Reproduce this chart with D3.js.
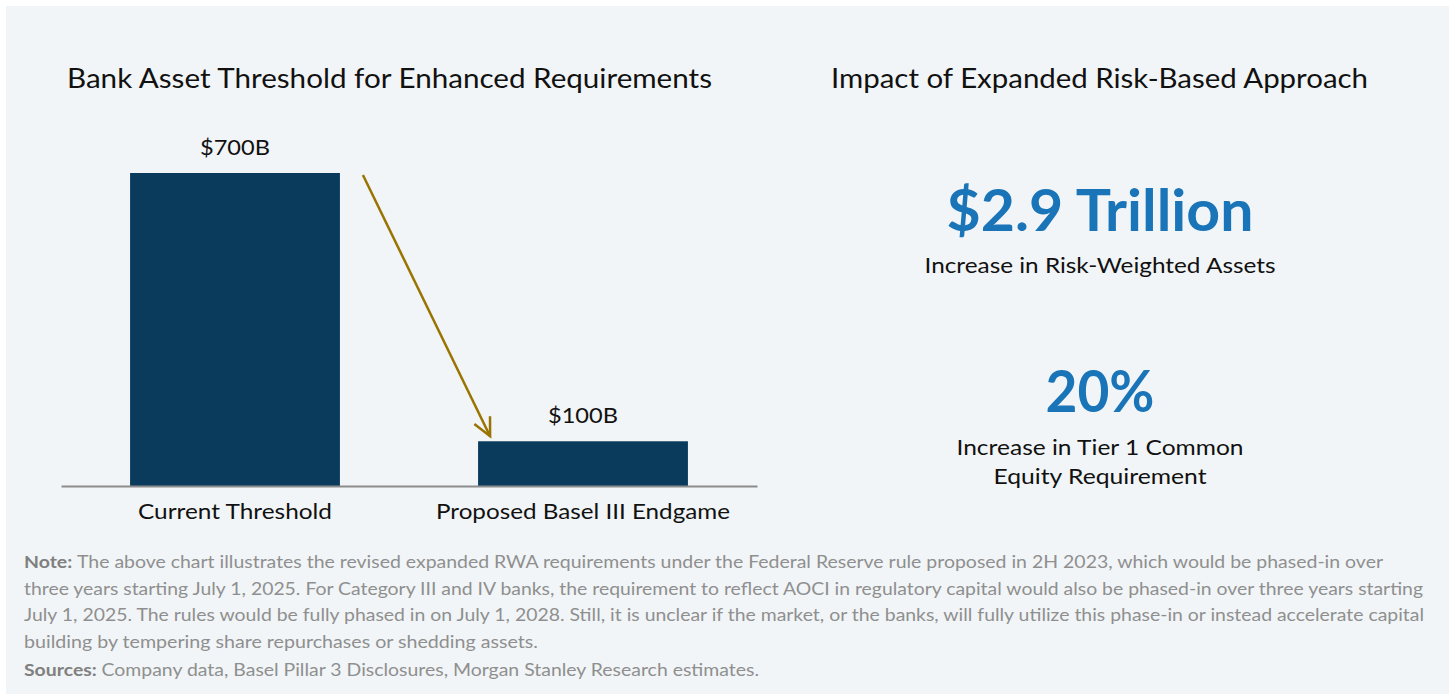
<!DOCTYPE html>
<html lang="en">
    <head>
        <meta charset="utf-8">
        <title>Bank Asset Threshold</title>
        <script src="https://d3js.org/d3.v7.min.js"></script>
        <style type="text/css">
         body { margin: 0; background: #ffffff; }
         text { font-family: Lato, "Open Sans", sans-serif; }
        </style>
    </head>
    <body>
        <script type="text/javascript">
         // Data
         var categories = ["Current Threshold", "Proposed Basel III Endgame"];
         var thresholds = [700, 100];
         var barLabels = ["$700B", "$100B"];
         var kpiValues = ["$2.9 Trillion", "20%"];
         var kpiCaptions = [["Increase in Risk-Weighted Assets"], ["Increase in Tier 1 Common", "Equity Requirement"]];
         var noteLines = [
             "The above chart illustrates the revised expanded RWA requirements under the Federal Reserve rule proposed in 2H 2023, which would be phased-in over",
             "three years starting July 1, 2025. For Category III and IV banks, the requirement to reflect AOCI in regulatory capital would also be phased-in over three years starting",
             "July 1, 2025. The rules would be fully phased in on July 1, 2028. Still, it is unclear if the market, or the banks, will fully utilize this phase-in or instead accelerate capital",
             "building by tempering share repurchases or shedding assets."
         ];
         var sourcesText = "Company data, Basel Pillar 3 Disclosures, Morgan Stanley Research estimates.";

         var width = 1449;
         var height = 694;

         var svg = d3.select("body")
                     .append("svg")
                     .attr("width", width)
                     .attr("height", height);

         // panel
         svg.append("rect")
            .attr("x", 6).attr("y", 6)
            .attr("width", width - 6).attr("height", height - 6)
            .attr("fill", "#f1f5f7");

         // fit helper: set textLength on a text element
         function fit(sel, len) {
             sel.attr("textLength", len).attr("lengthAdjust", "spacingAndGlyphs");
         }

         // titles
         fit(svg.append("text")
            .attr("x", 67).attr("y", 88)
            .attr("font-size", 26).attr("fill", "#111")
            .text("Bank Asset Threshold for Enhanced Requirements"), 645);

         fit(svg.append("text")
            .attr("x", 831).attr("y", 88)
            .attr("font-size", 26).attr("fill", "#111")
            .text("Impact of Expanded Risk-Based Approach"), 537);

         // scales
         var x = d3.scaleBand()
                   .domain(categories)
                   .range([61, 757])
                   .paddingInner(0.397)
                   .paddingOuter(0.1985);

         var y = d3.scaleLinear()
                   .domain([0, 700])
                   .range([486, 173]);

         // bars
         svg.selectAll("rect.bar")
            .data(thresholds)
            .enter()
            .append("rect")
            .attr("class", "bar")
            .attr("x", function(d, i) { return x(categories[i]); })
            .attr("y", function(d) { return y(d); })
            .attr("width", x.bandwidth())
            .attr("height", function(d) { return y(0) - y(d); })
            .attr("fill", "#0a3a5c");

         // value labels
         var labelWidths = [70, 70];
         svg.selectAll("text.val")
            .data(thresholds)
            .enter()
            .append("text")
            .attr("class", "val")
            .attr("x", function(d, i) { return x(categories[i]) + x.bandwidth() / 2; })
            .attr("y", function(d) { return y(d) - 18; })
            .attr("text-anchor", "middle")
            .attr("font-size", 22).attr("fill", "#111")
            .attr("textLength", function(d, i) { return labelWidths[i]; })
            .attr("lengthAdjust", "spacingAndGlyphs")
            .text(function(d, i) { return barLabels[i]; });

         // axis
         var xAxis = d3.axisBottom(x).tickSize(0).tickPadding(0);
         var ax = svg.append("g")
                     .attr("transform", "translate(0," + y(0) + ")")
                     .call(xAxis);
         ax.select(".domain").attr("stroke", "#8c8c8c").attr("stroke-width", 2);
         var catWidths = [194, 294];
         ax.selectAll(".tick text")
           .attr("y", 33).attr("dy", 0)
           .attr("font-size", 22).attr("fill", "#111")
           .style("font-family", "Lato, 'Open Sans', sans-serif")
           .attr("textLength", function(d, i) { return catWidths[i]; })
           .attr("lengthAdjust", "spacingAndGlyphs");

         // arrow from first bar to second
         var x0 = x(categories[0]) + x.bandwidth() + 23, y0 = y(thresholds[0]) + 2;
         var x1 = x(categories[1]) + 12, y1 = y(thresholds[1]) - 5;
         var gold = "#9a7400";
         svg.append("line")
            .attr("x1", x0).attr("y1", y0).attr("x2", x1).attr("y2", y1)
            .attr("stroke", gold).attr("stroke-width", 2.5);
         var ang = Math.atan2(y1 - y0, x1 - x0);
         var hl = 20, spread = 0.45;
         var head = d3.path();
         head.moveTo(x1 - hl * Math.cos(ang - spread), y1 - hl * Math.sin(ang - spread));
         head.lineTo(x1, y1);
         head.lineTo(x1 - hl * Math.cos(ang + spread), y1 - hl * Math.sin(ang + spread));
         svg.append("path")
            .attr("d", head.toString())
            .attr("fill", "none").attr("stroke", gold).attr("stroke-width", 2.5);

         // KPIs on the right
         var kpiY = [231, 412];
         var kpiW = [307, 109];
         var capY = [273, 455];
         var capW = [[351], [287, 213]];
         var cx = 1100;
         kpiValues.forEach(function(v, i) {
             fit(svg.append("text")
                .attr("x", cx).attr("y", kpiY[i])
                .attr("text-anchor", "middle")
                .attr("font-size", 58).attr("font-weight", "bold")
                .attr("fill", "#1a74b8")
                .text(v), kpiW[i]);
             kpiCaptions[i].forEach(function(c, j) {
                 fit(svg.append("text")
                    .attr("x", cx).attr("y", capY[i] + j * 29)
                    .attr("text-anchor", "middle")
                    .attr("font-size", 22).attr("fill", "#111")
                    .text(c), capW[i][j]);
             });
         });

         // note
         var noteW = [1359, 1399, 1400, 514];
         noteLines.forEach(function(line, i) {
             var t = svg.append("text")
                        .attr("x", 24).attr("y", 568 + i * 26.5)
                        .attr("font-size", 17).attr("fill", "#8f8f8f");
             if (i === 0) {
                 t.append("tspan").attr("font-weight", "bold").attr("fill", "#808080").text("Note: ");
             }
             t.append("tspan").text(line);
             fit(t, noteW[i]);
         });
         var s = svg.append("text")
                    .attr("x", 24).attr("y", 676)
                    .attr("font-size", 17).attr("fill", "#8f8f8f");
         s.append("tspan").attr("font-weight", "bold").attr("fill", "#808080").text("Sources: ");
         s.append("tspan").text(sourcesText);
         fit(s, 735);
        </script>
    </body>
</html>
